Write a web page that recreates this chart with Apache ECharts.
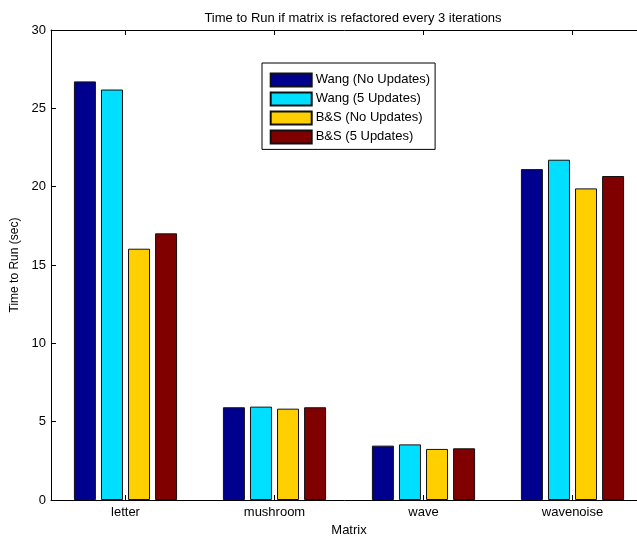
<!DOCTYPE html>
<html>
<head>
<meta charset="utf-8">
<script src="https://cdn.jsdelivr.net/npm/echarts@6/dist/echarts.min.js"></script>
<style>html,body{margin:0;padding:0;background:#fff;}#c{width:637px;height:536px;}</style>
</head>
<body>
<div id="c"></div>
<script>
const categories = ['letter', 'mushroom', 'wave', 'wavenoise'];
const seriesNames = ['Wang (No Updates)', 'Wang (5 Updates)', 'B&S (No Updates)', 'B&S (5 Updates)'];
const wangNoUpdates = [26.72, 5.92, 3.47, 21.12];
const wang5Updates = [26.20, 5.96, 3.55, 21.72];
const bsNoUpdates = [16.04, 5.83, 3.26, 19.89];
const bs5Updates = [17.02, 5.92, 3.30, 20.68];
const yTicks = [0, 5, 10, 15, 20, 25, 30];
const colors = ['#00008F', '#00DFFF', '#FFCF00', '#800000'];

const values = [wangNoUpdates, wang5Updates, bsNoUpdates, bs5Updates];
const font = 'Liberation Sans, Arial, sans-serif';

const chart = echarts.init(document.getElementById('c'));
chart.setOption({
  animation: false,
  backgroundColor: '#fff',
  textStyle: { fontFamily: font, color: '#000' },
  title: {
    text: 'Time to Run if matrix is refactored every 3 iterations',
    left: 348, top: 7, textAlign: 'center',
    textStyle: { fontFamily: font, fontSize: 13, fontWeight: 'normal', color: '#000' }
  },
  legend: {
    orient: 'vertical',
    left: 262, top: 63,
    padding: [9.4, 5, 5, 7.7],
    itemWidth: 41, itemHeight: 13, itemGap: 4,
    borderColor: '#000', borderWidth: 1,
    backgroundColor: '#fff',
    icon: 'rect',
    textStyle: { fontFamily: font, fontSize: 13, lineHeight: 13, color: '#000', padding: [0, 0, 0, -1] },
    data: seriesNames
  },
  grid: { left: 51, top: 30, right: -10, bottom: 36, containLabel: false, outerBoundsMode: 'none' },
  xAxis: [{
    type: 'category',
    data: categories,
    position: 'bottom',
    name: 'Matrix', nameLocation: 'middle', nameGap: 19,
    nameTextStyle: { fontFamily: font, fontSize: 13, color: '#000' },
    axisLine: { show: true, lineStyle: { color: '#000', width: 1 } },
    axisTick: { show: true, inside: true, alignWithLabel: true, length: 5, lineStyle: { color: '#000' } },
    axisLabel: { fontFamily: font, fontSize: 13, color: '#000', margin: 6 },
    splitLine: { show: false }
  }, {
    type: 'category',
    data: categories,
    position: 'top',
    axisLine: { show: true, lineStyle: { color: '#000', width: 1 } },
    axisTick: { show: true, inside: true, alignWithLabel: true, length: 5, lineStyle: { color: '#000' } },
    axisLabel: { show: false },
    splitLine: { show: false }
  }],
  yAxis: {
    type: 'value',
    min: yTicks[0], max: yTicks[yTicks.length - 1], interval: 5,
    name: 'Time to Run (sec)', nameLocation: 'middle', nameGap: 24, nameRotate: 90,
    nameTextStyle: { fontFamily: font, fontSize: 12, color: '#000' },
    axisLine: { show: true, lineStyle: { color: '#000', width: 1 } },
    axisTick: { show: true, inside: true, length: 5, lineStyle: { color: '#000' } },
    axisLabel: { fontFamily: font, fontSize: 13, color: '#000', margin: 5 },
    splitLine: { show: false }
  },
  series: seriesNames.map((n, i) => ({
    name: n,
    type: 'bar',
    xAxisIndex: 0,
    data: values[i],
    barWidth: 22,
    barGap: '23%',
    itemStyle: { color: colors[i], borderColor: '#111', borderWidth: 1 }
  }))
});
</script>
</body>
</html>
